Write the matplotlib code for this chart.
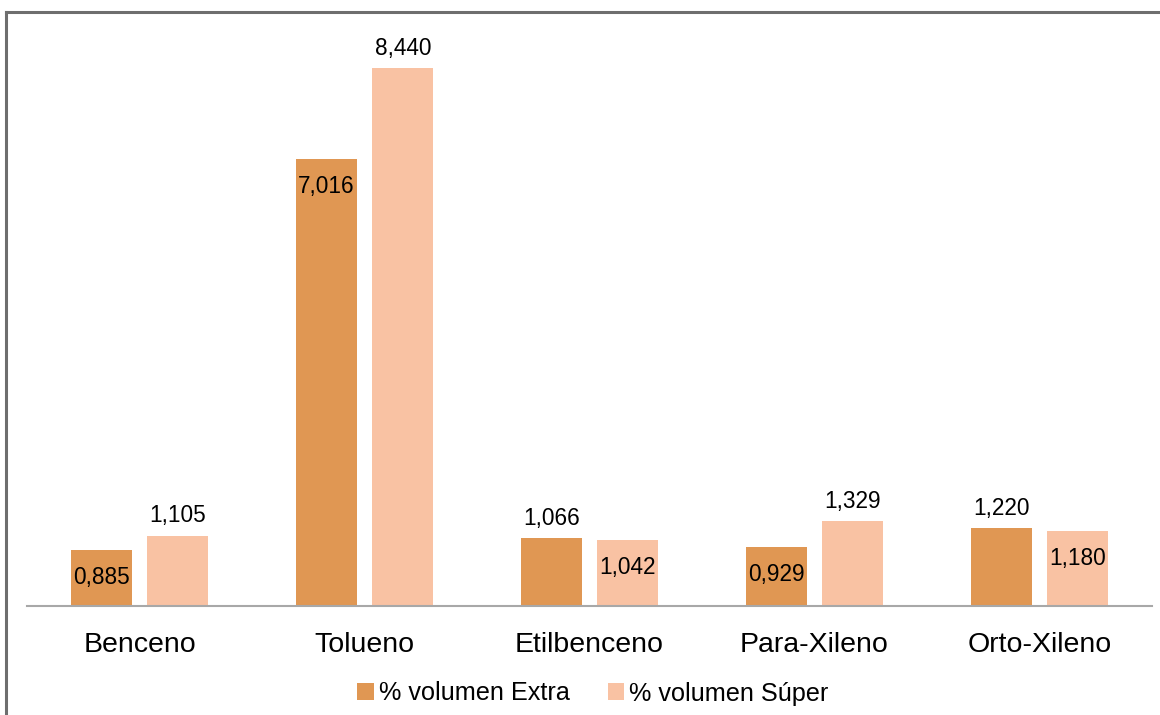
import matplotlib
matplotlib.use("Agg")
import matplotlib.pyplot as plt
from matplotlib.lines import Line2D
from matplotlib.patches import Patch
import numpy as np

plt.rcParams['font.family'] = ['Liberation Sans', 'DejaVu Sans']

categories = ["Benceno", "Tolueno", "Etilbenceno", "Para-Xileno", "Orto-Xileno"]
extra = [0.885, 7.016, 1.066, 0.929, 1.220]
super_ = [1.105, 8.440, 1.042, 1.329, 1.180]
series_names = ["% volumen Extra", "% volumen Súper"]

color_extra = "#E09753"
color_super = "#F9C2A3"

fig = plt.figure(figsize=(11.6, 7.15), dpi=100)
ax = fig.add_axes([27 / 1160, 1 - 606 / 715, 1125 / 1160, 576 / 715])

x = np.arange(len(categories))
offset = 0.17
width = 0.27
bars_e = ax.bar(x - offset, extra, width, color=color_extra)
bars_s = ax.bar(x + offset, super_, width, color=color_super)

def fmt(v):
    return f"{v:.3f}".replace(".", ",")

# value labels: the taller bar of each pair gets its label above, the shorter inside
for i in range(len(categories)):
    for bars, vals, other in ((bars_e, extra, super_), (bars_s, super_, extra)):
        b = bars[i]
        v = vals[i]
        cx = b.get_x() + b.get_width() / 2
        if v >= other[i]:
            dy, va = 6, "bottom"
        else:
            dy, va = -11.5, "top"
        ax.annotate(fmt(v), (cx, v), xytext=(0, dy), textcoords="offset points",
                    ha="center", va=va, fontsize=16.3, color="black")

ax.set_xlim(-0.5, len(categories) - 0.5)
ax.set_ylim(0, 576 / 63.7)
ax.set_xticks(x)
ax.set_xticklabels(categories, fontsize=20.5)
ax.tick_params(axis="x", length=0, pad=19)
ax.set_yticks([])
for s in ("left", "right", "top"):
    ax.spines[s].set_visible(False)
ax.spines["bottom"].set_color("#A8A8A8")
ax.spines["bottom"].set_linewidth(1.5)

handles = [Patch(facecolor=color_extra, edgecolor="none"),
           Patch(facecolor=color_super, edgecolor="none")]
fig.legend(handles, series_names, loc="center", bbox_to_anchor=(593 / 1160, 1 - 693.5 / 715),
           ncol=2, frameon=False, fontsize=18.2, handlelength=0.65, handleheight=0.65,
           handletextpad=0.2, columnspacing=1.5)

# outer frame (left and top edges)
fig.add_artist(Line2D([6 / 1160, 6 / 1160], [0, 1 - 12 / 715], color="#6E6E6E", lw=2.2,
                      transform=fig.transFigure))
fig.add_artist(Line2D([6 / 1160, 1], [1 - 12 / 715, 1 - 12 / 715], color="#6E6E6E", lw=2.2,
                      transform=fig.transFigure))

fig.savefig("out.png", dpi=100)
